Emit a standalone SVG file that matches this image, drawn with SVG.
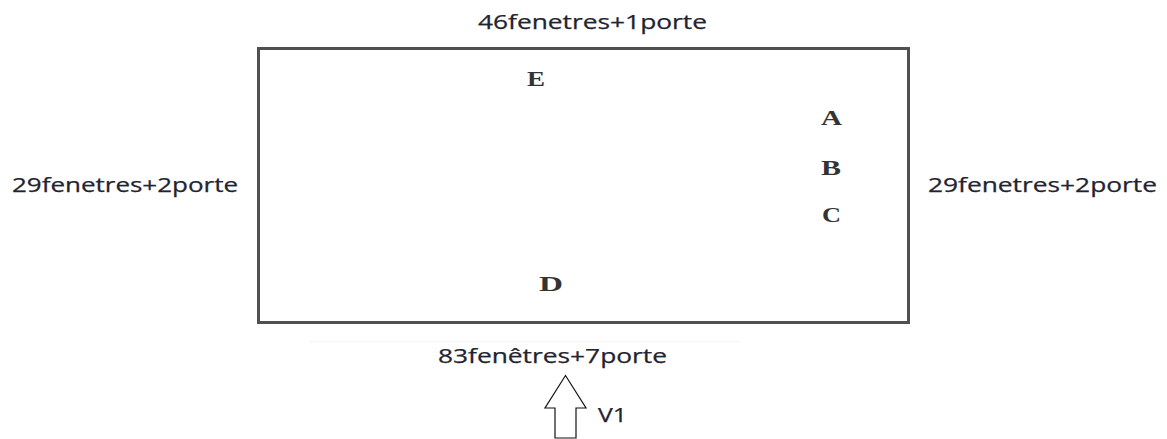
<svg xmlns="http://www.w3.org/2000/svg" width="1167" height="439" viewBox="0 0 1167 439">
<style>
.lbl{font-family:"Open Sans","Liberation Sans",sans-serif;font-size:19.5px;fill:#1f2430;stroke:#1f2430;stroke-width:0.25}
.pt{font-family:"Liberation Serif","DejaVu Serif",serif;font-size:21px;font-weight:bold;fill:#333333}
</style>
<rect width="1167" height="439" fill="#ffffff"/>
<g id="building">
<rect x="258.5" y="48.5" width="650" height="274" fill="#ffffff" stroke="#505050" stroke-width="3"/>
<line x1="310" y1="341.5" x2="740" y2="341.5" stroke="#f6f6f6" stroke-width="1.5"/>
</g>
<g id="labels">
<text class="lbl" x="478" y="29" textLength="229" lengthAdjust="spacingAndGlyphs">46fenetres+1porte</text>
<text class="lbl" x="12" y="192" textLength="226" lengthAdjust="spacingAndGlyphs">29fenetres+2porte</text>
<text class="lbl" x="928" y="192" textLength="229" lengthAdjust="spacingAndGlyphs">29fenetres+2porte</text>
<text class="lbl" x="438" y="363" textLength="229" lengthAdjust="spacingAndGlyphs">83fenêtres+7porte</text>
</g>
<g id="point-E"><text class="pt" x="527" y="86" textLength="18" lengthAdjust="spacingAndGlyphs">E</text></g>
<g id="point-A"><text class="pt" x="821" y="125" textLength="21" lengthAdjust="spacingAndGlyphs">A</text></g>
<g id="point-B"><text class="pt" x="821" y="175" textLength="20" lengthAdjust="spacingAndGlyphs">B</text></g>
<g id="point-C"><text class="pt" x="822" y="222" textLength="19" lengthAdjust="spacingAndGlyphs">C</text></g>
<g id="point-D"><text class="pt" x="539" y="291" textLength="24" lengthAdjust="spacingAndGlyphs">D</text></g>
<g id="connectors">
<path d="M555,438 L555,408 L545,408 L565.5,375.5 L586,408 L576,408 L576,438 Z" fill="#ffffff" stroke="#111111" stroke-width="1.2"/>
</g>
<g id="wind"><text class="lbl" x="598" y="422" textLength="29" lengthAdjust="spacingAndGlyphs">V1</text></g>
</svg>
